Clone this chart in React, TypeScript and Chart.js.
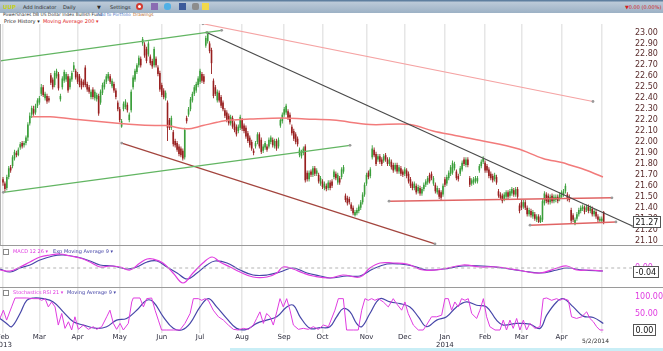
import React, { useEffect, useRef } from 'react';
import { Chart, registerables } from 'chart.js';

Chart.register(...registerables);

const FONT = "'DejaVu Sans', Verdana, sans-serif";

// ---------- daily candles, UUP, 2013-02-01 .. 2014-05-02 (trading-day index 0..314) ----------
const opens = [
  21.66,21.62,21.58,21.68,21.77,21.78,21.85,21.90,21.88,21.95,21.99,21.97,21.99,22.04,22.17,22.25,22.30,22.27,22.33,
  22.36,22.44,22.50,22.40,22.42,22.40,22.61,22.57,22.52,22.60,22.62,22.39,22.50,22.56,22.57,22.60,22.50,22.57,22.66,22.65,
  22.62,22.60,22.56,22.55,22.68,22.53,22.50,22.41,22.48,22.40,22.39,22.42,22.36,22.45,22.50,22.55,22.58,22.60,22.51,22.53,22.47,22.36,
  22.30,22.14,22.30,22.32,22.34,22.20,22.29,22.50,22.57,22.64,22.70,22.76,22.90,22.89,22.85,22.80,22.78,22.74,22.70,22.76,22.68,22.63,
  22.52,22.47,22.40,22.36,22.20,22.13,22.09,22.01,21.99,21.96,21.94,21.92,21.86,22.22,22.25,22.30,22.38,22.44,22.47,22.52,
  22.55,22.62,22.60,22.88,22.92,22.90,22.84,22.56,22.50,22.38,22.45,22.41,22.36,22.29,22.27,22.24,22.17,22.22,22.17,22.14,22.10,22.13,
  22.20,22.15,22.13,22.08,22.04,22.00,21.92,21.96,22.00,22.07,22.02,21.92,21.95,21.96,21.96,22.00,22.02,21.96,22.01,21.96,22.15,22.19,
  22.25,22.27,22.28,22.25,22.14,22.10,22.07,22.03,21.88,21.87,21.90,21.96,21.72,21.66,21.73,21.70,21.76,21.71,21.70,21.62,
  21.64,21.58,21.60,21.58,21.63,21.64,21.68,21.71,21.63,21.67,21.68,21.73,21.51,21.49,21.48,21.43,21.40,21.33,21.35,21.37,21.40,21.45,21.52,
  21.62,21.72,21.69,21.86,21.93,21.89,21.84,21.87,21.84,21.83,21.88,21.84,21.80,21.82,21.79,21.75,21.79,21.73,21.76,21.73,
  21.71,21.74,21.71,21.66,21.62,21.58,21.60,21.55,21.58,21.53,21.57,21.61,21.63,21.70,21.71,21.62,21.61,21.54,21.56,21.54,21.52,
  21.66,21.62,21.67,21.71,21.72,21.76,21.73,21.69,21.71,21.75,21.84,21.79,21.84,21.67,21.62,21.63,21.64,21.64,21.74,21.78,21.82,
  21.81,21.78,21.75,21.71,21.69,21.66,21.68,21.55,21.52,21.51,21.48,21.50,21.54,21.51,21.53,21.56,21.52,21.57,21.42,
  21.45,21.41,21.45,21.40,21.34,21.37,21.32,21.34,21.29,21.32,21.27,21.29,21.44,21.52,21.51,21.45,21.51,21.46,21.47,21.50,21.48,
  21.50,21.52,21.55,21.52,21.50,21.38,21.33,21.25,21.30,21.34,21.37,21.39,21.40,21.38,21.41,21.37,21.39,21.34,21.36,21.32,21.28,
  21.28,21.36,
];
const highs = [
  21.68,21.64,21.70,21.78,21.79,21.88,21.93,21.92,21.95,22.00,22.01,22.01,22.06,22.18,22.27,22.33,22.33,22.35,22.40,
  22.42,22.53,22.52,22.46,22.44,22.42,22.63,22.59,22.65,22.67,22.64,22.44,22.60,22.66,22.64,22.62,22.60,22.65,22.73,22.67,
  22.64,22.62,22.58,22.57,22.70,22.55,22.52,22.48,22.50,22.48,22.45,22.44,22.48,22.54,22.57,22.62,22.64,22.62,22.58,22.55,22.49,22.38,
  22.32,22.21,22.37,22.39,22.36,22.27,22.48,22.61,22.67,22.72,22.79,22.78,22.96,22.91,22.87,22.92,22.80,22.76,22.87,22.78,22.70,22.65,
  22.54,22.49,22.47,22.38,22.22,22.24,22.11,22.03,22.01,21.98,21.96,21.94,22.13,22.24,22.32,22.41,22.46,22.52,22.55,22.60,
  22.67,22.64,22.62,22.97,23.01,22.92,22.86,22.58,22.52,22.48,22.47,22.43,22.38,22.31,22.29,22.26,22.25,22.24,22.19,22.16,22.16,22.25,
  22.22,22.17,22.15,22.10,22.06,22.02,21.94,22.01,22.09,22.09,22.04,21.98,22.01,21.98,22.04,22.06,22.04,22.03,22.03,22.04,22.22,22.27,
  22.32,22.35,22.30,22.27,22.16,22.12,22.09,22.05,21.95,21.93,21.96,21.98,21.74,21.74,21.75,21.78,21.78,21.76,21.72,21.69,
  21.66,21.64,21.62,21.65,21.65,21.66,21.75,21.73,21.72,21.69,21.77,21.79,21.53,21.51,21.50,21.45,21.42,21.38,21.40,21.43,21.47,21.54,21.63,
  21.72,21.74,21.77,21.97,21.95,21.91,21.89,21.89,21.86,21.89,21.90,21.86,21.86,21.84,21.81,21.81,21.81,21.79,21.78,21.75,
  21.77,21.76,21.73,21.68,21.64,21.64,21.62,21.61,21.60,21.59,21.63,21.66,21.69,21.72,21.73,21.69,21.63,21.60,21.58,21.56,21.62,
  21.68,21.70,21.74,21.79,21.83,21.82,21.75,21.71,21.78,21.83,21.86,21.86,21.86,21.69,21.67,21.68,21.69,21.69,21.80,21.84,21.87,
  21.83,21.80,21.77,21.73,21.71,21.72,21.70,21.57,21.54,21.53,21.54,21.56,21.56,21.57,21.59,21.58,21.59,21.59,21.44,
  21.47,21.47,21.47,21.42,21.40,21.39,21.38,21.36,21.34,21.34,21.33,21.48,21.55,21.54,21.53,21.52,21.53,21.52,21.52,21.52,21.54,
  21.56,21.57,21.62,21.54,21.52,21.40,21.35,21.31,21.36,21.40,21.42,21.43,21.42,21.43,21.43,21.42,21.41,21.39,21.38,21.34,21.32,
  21.32,21.37,
];
const lows = [
  21.60,21.54,21.56,21.66,21.72,21.76,21.83,21.86,21.87,21.93,21.94,21.95,21.97,22.01,22.15,22.22,22.24,22.25,22.31,
  22.34,22.42,22.41,22.38,22.35,22.36,22.52,22.48,22.50,22.58,22.47,22.37,22.48,22.54,22.55,22.45,22.48,22.55,22.64,22.57,
  22.53,22.50,22.48,22.50,22.50,22.46,22.44,22.39,22.39,22.38,22.37,22.24,22.34,22.43,22.48,22.53,22.56,22.53,22.49,22.45,22.39,22.28,
  22.18,22.13,22.28,22.30,22.27,22.18,22.27,22.48,22.55,22.62,22.68,22.68,22.88,22.77,22.72,22.78,22.70,22.67,22.68,22.68,22.60,22.46,
  22.41,22.39,22.38,22.01,22.11,22.11,21.96,21.95,21.91,21.87,21.86,21.83,21.84,22.17,22.23,22.28,22.36,22.42,22.45,22.50,
  22.53,22.54,22.53,22.86,22.90,22.81,22.62,22.40,22.42,22.36,22.36,22.31,22.28,22.22,22.18,22.15,22.15,22.12,22.09,22.05,22.08,22.11,
  22.10,22.08,22.03,21.99,21.95,21.92,21.88,21.94,21.98,21.94,21.89,21.90,21.93,21.91,21.94,21.98,21.95,21.94,21.92,21.94,22.13,22.17,
  22.23,22.25,22.20,22.16,22.06,22.01,21.98,21.96,21.86,21.85,21.88,21.63,21.64,21.64,21.68,21.68,21.69,21.69,21.62,21.60,
  21.57,21.56,21.55,21.56,21.56,21.58,21.66,21.65,21.61,21.61,21.66,21.71,21.45,21.42,21.43,21.37,21.33,21.32,21.33,21.35,21.38,21.43,21.50,
  21.60,21.66,21.67,21.84,21.86,21.78,21.82,21.80,21.78,21.81,21.82,21.78,21.78,21.75,21.72,21.73,21.71,21.71,21.69,21.68,
  21.69,21.67,21.62,21.58,21.56,21.56,21.52,21.53,21.51,21.51,21.55,21.59,21.61,21.62,21.65,21.60,21.53,21.52,21.48,21.47,21.50,
  21.59,21.60,21.65,21.69,21.70,21.74,21.65,21.64,21.69,21.73,21.78,21.77,21.77,21.59,21.60,21.61,21.62,21.62,21.72,21.76,21.80,
  21.72,21.72,21.67,21.65,21.63,21.64,21.61,21.49,21.47,21.44,21.46,21.48,21.48,21.49,21.51,21.50,21.50,21.48,21.35,
  21.38,21.39,21.38,21.32,21.32,21.31,21.30,21.28,21.27,21.26,21.26,21.27,21.42,21.44,21.43,21.43,21.44,21.44,21.45,21.44,21.46,
  21.48,21.50,21.53,21.46,21.45,21.26,21.27,21.24,21.28,21.32,21.35,21.37,21.34,21.36,21.35,21.35,21.32,21.32,21.30,21.27,21.26,
  21.26,21.25,
];
const closes = [
  21.63,21.57,21.68,21.76,21.74,21.86,21.91,21.88,21.93,21.98,21.96,21.99,22.04,22.16,22.24,22.31,22.26,22.33,22.38,
  22.40,22.50,22.43,22.44,22.37,22.38,22.54,22.50,22.63,22.65,22.49,22.42,22.58,22.64,22.62,22.47,22.58,22.63,22.70,22.59,
  22.55,22.52,22.50,22.52,22.52,22.48,22.46,22.46,22.41,22.46,22.43,22.26,22.46,22.52,22.55,22.60,22.62,22.55,22.56,22.47,22.41,22.30,
  22.20,22.19,22.35,22.37,22.29,22.25,22.46,22.59,22.65,22.70,22.77,22.70,22.94,22.79,22.74,22.90,22.72,22.69,22.85,22.70,22.62,22.48,
  22.43,22.41,22.45,22.13,22.13,22.22,21.98,21.97,21.93,21.89,21.88,21.85,22.11,22.19,22.30,22.39,22.44,22.50,22.53,22.58,
  22.65,22.56,22.55,22.95,22.99,22.83,22.72,22.42,22.44,22.46,22.38,22.33,22.30,22.24,22.20,22.17,22.23,22.14,22.11,22.07,22.14,22.23,
  22.12,22.10,22.05,22.01,21.97,21.94,21.90,21.99,22.07,21.96,21.91,21.96,21.99,21.93,22.02,22.04,21.97,22.01,21.94,22.02,22.20,22.25,
  22.30,22.33,22.22,22.18,22.08,22.03,22.00,21.98,21.93,21.91,21.94,21.65,21.66,21.72,21.70,21.76,21.71,21.74,21.64,21.67,
  21.59,21.62,21.57,21.63,21.58,21.60,21.73,21.67,21.70,21.63,21.75,21.77,21.47,21.44,21.45,21.39,21.35,21.36,21.38,21.41,21.45,21.52,21.61,
  21.70,21.68,21.75,21.94,21.88,21.80,21.87,21.82,21.80,21.87,21.84,21.80,21.84,21.77,21.74,21.79,21.73,21.77,21.71,21.70,
  21.75,21.69,21.64,21.60,21.58,21.62,21.54,21.59,21.53,21.57,21.61,21.64,21.67,21.64,21.67,21.67,21.55,21.58,21.50,21.49,21.60,
  21.61,21.68,21.72,21.77,21.81,21.80,21.67,21.66,21.76,21.81,21.80,21.84,21.79,21.61,21.65,21.66,21.67,21.67,21.78,21.82,21.85,
  21.74,21.74,21.69,21.67,21.65,21.70,21.63,21.51,21.49,21.46,21.52,21.54,21.50,21.55,21.57,21.52,21.57,21.50,21.37,
  21.40,21.45,21.40,21.34,21.38,21.33,21.36,21.30,21.32,21.27,21.31,21.46,21.53,21.46,21.45,21.50,21.46,21.50,21.50,21.46,21.52,
  21.54,21.55,21.60,21.48,21.47,21.28,21.29,21.29,21.34,21.38,21.40,21.41,21.36,21.41,21.37,21.40,21.34,21.37,21.32,21.29,21.30,
  21.30,21.27,
];

// 200-day moving average (sparse readings: trading-day index / value)
const ma200Days = [15.2,24.6,41.8,61.2,68.0,79.5,85.7,96.2,104.5,111.9,118.7,129.1,146.4,157.9,172.5,191.8,212.8,224.8,236.3,250.9,268.7,282.3,292.7,296.3,305.3,313.6];
const ma200Values = [22.23,22.23,22.20,22.17,22.16,22.15,22.15,22.12,22.15,22.18,22.20,22.21,22.22,22.21,22.20,22.16,22.16,22.10,22.06,22.01,21.94,21.85,21.81,21.79,21.74,21.68];

// drawn trend lines: [trading-day index, price]
const upperChannel = [[-1.57, 22.74], [114.3, 23.02]];
const lowerChannel = [[0.16, 21.54], [181.4, 21.97]];
const fallingChannel = [[62.05, 21.99], [225.8, 21.07]];
const resistanceLine = [[106.5, 23.0], [329.3, 21.23]];
const upperBand = [[104.5, 23.08], [308.4, 22.37]];
const rangeTop = [[201.8, 21.46], [318.3, 21.49]];
const rangeBottom = [[275.5, 21.24], [320.4, 21.27]];

// MACD 12 26 and its EMA 9
const macdDays = [-1.6,3.7,8.9,14.1,19.3,24.6,29.8,35.0,40.3,45.5,50.7,55.9,61.2,66.4,71.6,75.3,78.4,83.6,88.9,94.1,99.3,104.5,109.3,113.4,118.7,123.9,130.7,138.0,143.2,146.4,151.6,156.8,162.1,171.0,177.7,186.6,191.8,197.1,203.9,211.2,219.6,230.0,240.5,249.4,258.3,268.7,280.7,289.6,294.8,300.0,306.8,313.6];
const macdValues = [-0.02,-0.03,0.01,0.06,0.11,0.13,0.14,0.12,0.10,0.06,0.01,0.02,0.01,-0.02,0.05,0.09,0.09,0.05,-0.05,-0.15,-0.05,0.05,0.11,0.06,0.01,-0.04,-0.09,-0.09,-0.05,0.01,-0.01,-0.05,-0.08,-0.10,-0.07,-0.09,0.00,0.05,0.05,0.04,-0.02,-0.01,0.03,0.01,0.01,-0.02,-0.05,0.00,0.02,-0.02,-0.02,-0.03];
const signalDays = [-1.6,3.7,8.9,14.1,19.3,26.1,31.4,38.7,45.5,50.7,57.5,64.8,70.0,75.3,80.5,85.7,91.0,96.2,101.4,106.6,110.8,117.1,123.9,130.7,138.0,144.8,151.6,158.9,165.7,171.0,179.8,186.6,193.4,200.7,207.5,214.3,221.6,230.0,240.5,250.9,261.4,271.8,280.7,289.6,294.8,303.2,313.6];
const signalValues = [-0.01,-0.04,0.00,0.03,0.08,0.12,0.13,0.11,0.07,0.03,0.02,-0.01,0.01,0.06,0.07,0.01,-0.05,-0.11,-0.05,0.03,0.07,0.05,-0.02,-0.07,-0.07,-0.04,0.00,-0.05,-0.08,-0.10,-0.08,-0.08,-0.01,0.04,0.04,0.02,-0.02,-0.01,0.02,0.02,0.00,-0.03,-0.05,-0.02,0.00,-0.02,-0.03];
const macdLast = -0.04;

// Stochastics RSI 21 and its MA 9
const stochDays = [-1.6,0.2,1.9,4.5,6.3,8.9,12.4,15.9,18.5,20.2,22.0,23.7,25.4,27.2,28.9,30.7,32.4,34.2,35.9,37.6,39.4,42.0,44.6,47.2,49.0,51.6,54.2,55.9,57.7,59.4,61.2,62.9,65.5,67.3,68.1,71.6,73.4,75.1,77.7,79.5,81.2,82.9,85.6,89.0,92.5,95.1,97.8,99.5,102.1,103.9,105.6,107.3,109.9,112.6,115.2,117.8,120.4,123.0,125.6,128.2,130.9,132.6,134.3,136.1,137.8,139.6,141.3,143.1,144.8,146.5,148.3,150.0,151.8,154.4,157.0,159.6,162.2,164.8,167.5,170.1,173.5,175.3,177.9,179.6,183.1,185.7,187.5,189.2,190.9,192.7,194.4,196.2,198.8,201.4,204.0,205.7,208.4,210.1,211.8,214.5,217.1,219.7,221.4,224.0,226.7,229.3,231.0,232.8,234.5,236.2,238.0,239.7,241.5,243.2,245.0,247.6,249.3,251.1,252.8,254.5,257.2,259.8,261.5,263.2,265.0,266.7,268.5,270.2,272.0,273.7,275.4,278.1,280.7,282.4,284.2,286.8,289.4,291.1,292.9,295.5,297.2,299.8,302.5,305.1,306.8,308.6,310.3,312.0,313.8];
const stochValues = [35,60,30,70,97,97,97,95,95,90,95,70,85,70,15,50,5,25,0,40,2,15,2,10,2,10,40,60,20,2,20,0,20,85,97,97,70,95,97,60,30,0,0,0,0,20,50,95,95,90,95,90,60,40,30,15,2,0,5,2,15,35,55,20,50,40,15,55,95,70,95,60,15,2,5,2,10,2,15,10,60,95,95,0,0,0,60,95,90,95,90,95,85,70,95,80,60,85,50,15,0,0,15,40,40,45,95,95,60,85,70,95,90,95,50,35,60,95,40,10,0,0,30,0,30,5,35,0,30,0,20,5,10,95,97,90,95,90,95,90,40,35,40,55,35,25,10,0,0];
const stochMaDays = [-1.6,1.9,4.5,8.9,12.4,15.9,21.1,26.3,31.5,36.8,42.0,49.0,54.2,59.4,64.6,69.9,75.1,78.6,83.8,89.0,93.4,97.8,103.0,107.3,111.7,116.9,122.1,127.4,132.6,137.8,143.1,148.3,151.8,155.3,160.5,165.7,170.9,174.4,177.9,181.4,184.8,187.5,191.8,197.0,202.3,207.5,212.7,217.1,221.4,226.7,231.9,237.1,242.3,247.6,252.8,258.0,261.5,268.5,275.4,280.7,284.2,289.4,292.9,298.1,303.3,308.6,313.8];
const stochMaValues = [35,20,10,50,90,97,95,85,55,25,15,5,10,30,35,60,90,85,40,5,0,20,70,95,70,35,5,2,20,30,40,70,75,40,5,7,10,40,65,55,20,10,50,95,85,80,70,40,10,30,40,70,85,75,70,30,15,20,18,5,45,85,95,70,42,38,20];
const stochLast = 0.0;

// axis
const monthStartDays = [0,19,39,61,83,103,125,147,167,190,210,231,252,271,292,313];
const monthLabels: (string | string[])[] = [['Feb','2013'],'Mar','Apr','May','Jun','Jul','Aug','Sep','Oct','Nov','Dec',['Jan','2014'],'Feb','Mar','Apr',''];
const priceTicks = [21.1,21.2,21.3,21.4,21.5,21.6,21.7,21.8,21.9,22.0,22.1,22.2,22.3,22.4,22.5,22.6,22.7,22.8,22.9,23.0];
const macdTicks = [0];
const stochTicks = [0,50,100];

// ---------- layout constants ----------
const X_MIN = -1.57;
const X_MAX = 328.8;
const AXIS_W = 31;
const UP = '#3a9e3a';
const DOWN = '#981f1f';
const PINK = '#e03ce0';
const BLUE = '#4646a8';

const pts = (xs: number[], ys: number[]) => xs.map((x, k) => ({ x, y: ys[k] }));
const pairPts = (p: number[][]) => p.map(([x, y]) => ({ x, y }));

function xScale(showLabels: boolean) {
  return {
    type: 'linear', min: X_MIN, max: X_MAX, offset: false,
    grid: { display: true, offset: false, color: '#e6e6e6', lineWidth: 1.5, drawTicks: false },
    border: { display: false },
    ticks: {
      display: showLabels, autoSkip: false, maxRotation: 0, minRotation: 0, padding: 0,
      color: '#2b2b3b', font: { family: FONT, size: 7, lineHeight: 1.2 },
      callback: (_v: any, idx: number) => monthLabels[idx] ?? '',
    },
    afterBuildTicks: (s: any) => { s.ticks = monthStartDays.map((v) => ({ value: v })); },
    afterFit: (s: any) => { s.paddingLeft = 0; s.paddingRight = 0; s.height = showLabels ? 18 : 0; },
  };
}

function yScale(min: number, max: number, tickValues: number[], color: string) {
  return {
    type: 'linear', position: 'right', min, max,
    grid: { display: false, drawTicks: false }, border: { display: false },
    ticks: { color, padding: 3, autoSkip: false, font: { family: FONT, size: 8 }, callback: (v: any) => Number(v).toFixed(2) },
    afterBuildTicks: (s: any) => { s.ticks = tickValues.map((v) => ({ value: v })); },
    afterFit: (s: any) => { s.width = AXIS_W; s.paddingTop = 0; s.paddingBottom = 0; },
  };
}

function valueBox(text: string, value: number) {
  return {
    id: 'valueBox',
    afterDraw(chart: any) {
      const { ctx, chartArea } = chart;
      const y = Math.round(chart.scales.y.getPixelForValue(value));
      ctx.save();
      ctx.font = `8px ${FONT}`;
      const w = Math.ceil(ctx.measureText(text).width) + 4;
      const x = Math.round(chartArea.right) + 1;
      ctx.fillStyle = '#ffffff';
      ctx.fillRect(x, y - 6, w, 12);
      ctx.strokeStyle = '#555555';
      ctx.lineWidth = 1;
      ctx.strokeRect(x + 0.5, y - 5.5, w, 11);
      ctx.fillStyle = '#111111';
      ctx.textBaseline = 'middle';
      ctx.fillText(text, x + 2.5, y + 0.5);
      ctx.restore();
    },
  };
}

const baseOptions = {
  responsive: false, maintainAspectRatio: false, animation: false, events: [], devicePixelRatio: 1,
  layout: { padding: 0, autoPadding: false },
  plugins: { legend: { display: false }, tooltip: { enabled: false } },
};

function seg(p: number[][], color: string, width = 1.2) {
  return {
    type: 'line', data: pairPts(p), borderColor: color, borderWidth: width,
    pointRadius: 1.4, pointBackgroundColor: '#9a9a9a', pointBorderWidth: 0,
    tension: 0, clip: false, order: 0,
  };
}

const T = ({ x, y, size, color, bold, children }: any) => (
  <span style={{ position: 'absolute', left: x, top: y - size * 0.6, fontSize: size, lineHeight: `${size * 1.2}px`, color, fontWeight: bold ? 'bold' : 'normal', whiteSpace: 'nowrap', fontFamily: FONT }}>{children}</span>
);

export default function App() {
  const priceRef = useRef<HTMLCanvasElement>(null);
  const macdRef = useRef<HTMLCanvasElement>(null);
  const stochRef = useRef<HTMLCanvasElement>(null);

  useEffect(() => {
    const colors = closes.map((c, i) => (c >= opens[i] ? UP : DOWN));
    const price = new Chart(priceRef.current as HTMLCanvasElement, {
      type: 'bar',
      data: {
        datasets: [
          { type: 'bar', data: closes.map((_c, i) => ({ x: i, y: [lows[i], highs[i]] })), backgroundColor: colors, barThickness: 0.9, grouped: false, borderWidth: 0, inflateAmount: 0, order: 3 } as any,
          { type: 'bar', data: closes.map((c, i) => ({ x: i, y: [opens[i], c] })), backgroundColor: colors, barThickness: 1.6, minBarLength: 1, grouped: false, borderWidth: 0, inflateAmount: 0, order: 2 } as any,
          { type: 'line', data: pts(ma200Days, ma200Values), borderColor: '#f27b7b', borderWidth: 1.5, pointRadius: 0, tension: 0.35, order: 1 } as any,
          seg(upperChannel, '#62b562'),
          seg(lowerChannel, '#62b562'),
          seg(fallingChannel, '#a3453e'),
          seg(resistanceLine, '#4a4a4a'),
          seg(upperBand, '#f5a3a3'),
          seg(rangeTop, '#e06464', 1.5),
          seg(rangeBottom, '#e06464', 1.5),
        ],
      },
      options: {
        ...baseOptions,
        scales: { x: xScale(false), y: yScale(21.0594, 23.0776, priceTicks, '#5a2c2c') },
      } as any,
      plugins: [valueBox(closes[closes.length - 1].toFixed(2), closes[closes.length - 1])],
    });

    const macd = new Chart(macdRef.current as HTMLCanvasElement, {
      type: 'line',
      data: {
        datasets: [
          { data: [{ x: -2, y: 0 }, { x: 330, y: 0 }], borderColor: '#b4b4b4', borderWidth: 1, borderDash: [3, 3], pointRadius: 0 },
          { data: pts(macdDays, macdValues), borderColor: PINK, borderWidth: 1.2, pointRadius: 0, tension: 0.4 },
          { data: pts(signalDays, signalValues), borderColor: BLUE, borderWidth: 1.2, pointRadius: 0, tension: 0.4 },
        ],
      },
      options: {
        ...baseOptions,
        scales: { x: xScale(false), y: yScale(-0.19, 0.22, macdTicks, PINK) },
      } as any,
      plugins: [valueBox(macdLast.toFixed(2), macdLast)],
    });

    const stoch = new Chart(stochRef.current as HTMLCanvasElement, {
      type: 'line',
      data: {
        datasets: [
          { data: pts(stochDays, stochValues), borderColor: PINK, borderWidth: 1, pointRadius: 0, tension: 0 },
          { data: pts(stochMaDays, stochMaValues), borderColor: BLUE, borderWidth: 1.2, pointRadius: 0, tension: 0.4 },
        ],
      },
      options: {
        ...baseOptions,
        scales: { x: xScale(true), y: yScale(-9.09, 127.27, stochTicks, PINK) },
      } as any,
      plugins: [valueBox(stochLast.toFixed(2), stochLast)],
    });

    return () => { price.destroy(); macd.destroy(); stoch.destroy(); };
  }, []);

  const icon = (x: number, bg: string, extra: any = {}) => (
    <div style={{ position: 'absolute', left: x, top: 3, width: 7, height: 7, background: bg, ...extra }} />
  );

  return (
    <div style={{ position: 'absolute', left: 0, top: 0, width: 663, height: 351, background: '#ffffff', overflow: 'hidden', fontFamily: FONT }}>
      <div style={{ position: 'absolute', left: 0, top: 0, width: 663, height: 13, background: 'linear-gradient(to bottom, #5f7f9f 0px, #5f7f9f 1px, #bccad8 2px, #9cb1c5 13px)' }} />
      <T x={3} y={7} size={5.5} color="#c6d01a" bold>UUP</T>
      <T x={23} y={7} size={5} color="#2a2a2a">Add Indicator</T>
      <T x={63} y={7} size={5} color="#2a2a2a">Daily</T>
      <T x={97} y={7} size={5} color="#2a2a2a">▼</T>
      <T x={110} y={7} size={5} color="#2a2a2a">Settings</T>
      {icon(136, '#ffffff', { border: '2px solid #d23a30', borderRadius: 4, width: 3, height: 3 })}
      {icon(151, '#8a6cb2')}
      {icon(164, '#4fb0e6', { borderRadius: 3 })}
      {icon(179, '#3b5a9a')}
      {icon(192, '#8c8c8c', { borderRadius: 2 })}
      {icon(202, '#f2d94a')}
      <T x={625} y={7} size={5} color="#d42020">▼0.00 (0.00%)</T>

      <T x={3} y={15} size={4.4} color="#333333">PowerShares DB US Dollar Index Bullish Fund</T>
      <T x={97} y={15} size={4.4} color="#5a82c8">Add to Portfolio</T>
      <T x={133} y={15} size={4.4} color="#b86a30">Drawings</T>
      <T x={4} y={21} size={5} color="#222222">Price History ▾</T>
      <T x={43} y={21} size={5} color="#e02828">Moving Average 200 ▾</T>

      <canvas ref={priceRef} width={663} height={221} style={{ position: 'absolute', left: 0, top: 24, width: 663, height: 221 }} />
      <canvas ref={macdRef} width={663} height={41} style={{ position: 'absolute', left: 0, top: 246, width: 663, height: 41 }} />
      <canvas ref={stochRef} width={663} height={63} style={{ position: 'absolute', left: 0, top: 288, width: 663, height: 63 }} />

      <div style={{ position: 'absolute', left: 0, top: 24, width: 1, height: 221, background: '#b0b0b0' }} />
      <div style={{ position: 'absolute', left: 0, top: 245, width: 663, height: 1, background: '#9a9a9a' }} />
      <div style={{ position: 'absolute', left: 0, top: 287, width: 663, height: 1, background: '#9a9a9a' }} />
      <div style={{ position: 'absolute', left: 230, top: 348, width: 433, height: 3, background: '#c9eef6' }} />

      <div style={{ position: 'absolute', left: 3, top: 248.5, width: 4, height: 4, border: '1px solid #8a8a8a', background: '#fff' }} />
      <T x={13} y={251} size={5} color={PINK}>MACD 12 26 ▾</T>
      <T x={53} y={251} size={5} color={BLUE}>Exp Moving Average 9 ▾</T>
      <div style={{ position: 'absolute', left: 3, top: 289.5, width: 4, height: 4, border: '1px solid #8a8a8a', background: '#fff' }} />
      <T x={13} y={292} size={5} color={PINK}>Stochastics RSI 21 ▾</T>
      <T x={67} y={292} size={5} color={BLUE}>Moving Average 9 ▾</T>

      <T x={582} y={340.5} size={6} color="#333333">5/2/2014</T>
    </div>
  );
}
